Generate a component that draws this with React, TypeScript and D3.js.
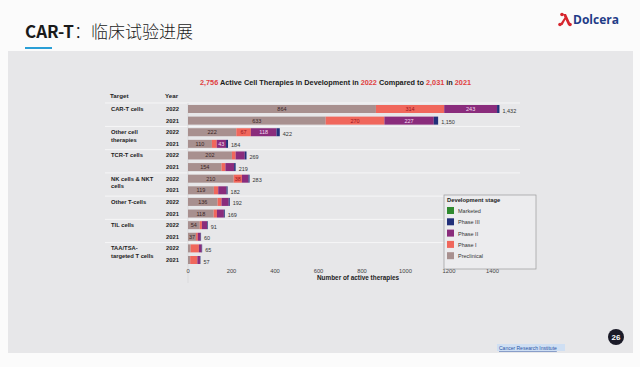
import React from "react";
import * as d3 from "d3";

const targets = ["CAR-T cells", "Other cell\ntherapies", "TCR-T cells", "NK cells & NKT\ncells", "Other T-cells", "TIL cells", "TAA/TSA-\ntargeted T cells"];
const years = ["2022", "2021"];
const stages = ["Marketed", "Phase III", "Phase II", "Phase I", "Preclinical"];
const stageColors = ["#2f8a2f", "#22307a", "#8a2c7c", "#f0675c", "#a8908f"];

const preclinical = [864, 633, 222, 110, 202, 154, 210, 119, 136, 118, 54, 37, 12, 10];
const phase1 = [314, 270, 67, 22, 17, 18, 38, 20, 18, 15, 10, 8, 38, 33];
const phase2 = [243, 227, 118, 43, 42, 40, 30, 38, 33, 32, 24, 13, 13, 12];
const phase3 = [11, 20, 15, 9, 8, 7, 5, 5, 5, 4, 3, 2, 2, 2];
const marketed = [0, 0, 0, 0, 0, 0, 0, 0, 0, 0, 0, 0, 0, 0];
const totals = [1432, 1150, 422, 184, 269, 219, 283, 182, 192, 169, 91, 60, 65, 57];

const labelPreRows = [0, 1, 2, 3, 4, 5, 6, 7, 8, 9, 10, 11];
const labelP1Rows = [0, 1, 2, 6];
const labelP2Rows = [0, 1, 2, 3];

const xTicks = [0, 200, 400, 600, 800, 1000, 1200, 1400];

const FONT = "'Liberation Sans', Arial, sans-serif";

export default function App() {
  const x = d3.scaleLinear().domain([0, 1400]).range([188, 492.5]);
  const rows = d3.range(totals.length);
  const y = d3.scalePoint<number>().domain(rows).range([109, 260]);
  const barH = 8;
  const fmt = d3.format(",");

  const segs = rows.map((i) => {
    const vals = [preclinical[i], phase1[i], phase2[i], phase3[i], marketed[i]];
    const cols = [stageColors[4], stageColors[3], stageColors[2], stageColors[1], stageColors[0]];
    let acc = 0;
    return vals.map((v, k) => {
      const s = { x0: acc, x1: acc + v, color: cols[k], v, k };
      acc += v;
      return s;
    });
  });

  const sepYs = d3.range(targets.length - 1).map((g) => ((y(2 * g + 1) as number) + (y(2 * g + 2) as number)) / 2);

  return (
    <svg width={640} height={367} style={{ position: "absolute", left: 0, top: 0, background: "#fbfbfb" }} fontFamily={FONT}>
      <rect x={0} y={0} width={640} height={367} fill="#fbfbfb" />
      <text x={25} y={38} fontSize={17} fontFamily="'Noto Sans CJK SC', 'Noto Sans', sans-serif" fill="#1a1a1a">
        <tspan fontWeight="bold">CAR-T</tspan>
        <tspan fontWeight={300}>：临床试验进展</tspan>
      </text>
      <rect x={25} y={47} width={27} height={2} fill="#2a9fd6" />
      <g fill="#d7262e">
        <path d="M563,14 L566,14 L571,25 L568,25 L565.5,19.5 L562.5,25 L559.5,25 L564.5,17.5 Z" />
        <circle cx={562} cy={14.5} r={1.8} />
        <circle cx={560} cy={24.5} r={1.8} />
        <circle cx={570} cy={24.5} r={1.8} />
      </g>
      <text x={573} y={24} fontSize={12} fontWeight="bold" fill="#1f3c88" fontFamily="'Open Sans', sans-serif">Dolcera</text>

      <rect x={8} y={51} width={625} height={302} fill="#e7e7e9" />

      <text x={335.5} y={85} fontSize={7.3} fontWeight="bold" textAnchor="middle" fill="#1a1a1a">
        <tspan fill="#e0403f">2,756</tspan> Active Cell Therapies in Development in <tspan fill="#e0403f">2022</tspan> Compared to <tspan fill="#e0403f">2,031</tspan> in <tspan fill="#e0403f">2021</tspan>
      </text>

      <text x={110} y={98} fontSize={6.2} fontWeight="bold" fill="#222">Target</text>
      <text x={165} y={98} fontSize={6.2} fontWeight="bold" fill="#222">Year</text>

      {sepYs.map((sy, i) => (
        <line key={i} x1={105} x2={520} y1={sy} y2={sy} stroke="#f6f6f7" strokeWidth={1} />
      ))}
      <line x1={105} x2={520} y1={103} y2={103} stroke="#f6f6f7" strokeWidth={1} />
      <line x1={x(0)} x2={x(0)} y1={103} y2={283} stroke="#d4d4d6" strokeWidth={0.6} />

      {targets.map((t, g) => (
        <text key={t} x={111} y={(y(2 * g) as number) + 2} fontSize={5.8} fontWeight="bold" fill="#222">
          {t.split("\n").map((ln, j) => (
            <tspan key={j} x={111} dy={j === 0 ? 0 : 7.5}>{ln}</tspan>
          ))}
        </text>
      ))}
      {rows.map((i) => (
        <text key={i} x={166} y={(y(i) as number) + 2} fontSize={5.8} fontWeight="bold" fill="#222">{years[i % 2]}</text>
      ))}

      {rows.map((i) => {
        const cy = y(i) as number;
        return (
          <g key={i}>
            {segs[i].filter((s) => s.v > 0).map((s) => (
              <rect key={s.k} x={x(s.x0)} y={cy - barH / 2} width={x(s.x1) - x(s.x0)} height={barH} fill={s.color} />
            ))}
            {labelPreRows.includes(i) && (
              <text x={(x(segs[i][0].x0) + x(segs[i][0].x1)) / 2} y={cy + 2} fontSize={5.5} textAnchor="middle" fill="#3a2626">{preclinical[i]}</text>
            )}
            {labelP1Rows.includes(i) && (
              <text x={(x(segs[i][1].x0) + x(segs[i][1].x1)) / 2} y={cy + 2} fontSize={5.5} textAnchor="middle" fill="#9a1420">{phase1[i]}</text>
            )}
            {labelP2Rows.includes(i) && (
              <text x={(x(segs[i][2].x0) + x(segs[i][2].x1)) / 2} y={cy + 2} fontSize={5.5} textAnchor="middle" fill="#f3dcef">{phase2[i]}</text>
            )}
            <text x={x(totals[i]) + 3} y={cy + 3.5} fontSize={5.5} fill="#333">{fmt(totals[i])}</text>
          </g>
        );
      })}

      {xTicks.map((t) => (
        <text key={t} x={x(t)} y={273} fontSize={5.8} textAnchor="middle" fill="#444">{t}</text>
      ))}
      <text x={317} y={280} fontSize={6.4} fontWeight="bold" fill="#222">Number of active therapies</text>

      <rect x={444} y={195} width={92} height={74} fill="#ececee" stroke="#9a9a9a" strokeWidth={0.7} />
      <text x={447} y={202} fontSize={5.8} fontWeight="bold" fill="#222">Development stage</text>
      {stages.map((s, k) => (
        <g key={s}>
          <rect x={447} y={207 + k * 11.3} width={7} height={7} fill={stageColors[k]} />
          <text x={458} y={213 + k * 11.3} fontSize={5.5} fill="#333">{s}</text>
        </g>
      ))}

      <rect x={497} y={344} width={68} height={7} fill="#cfdff3" />
      <text x={499} y={350} fontSize={5} fill="#2a55a8" textDecoration="underline">Cancer Research Institute</text>
      <circle cx={616} cy={337} r={8} fill="#1b1b28" />
      <text x={616} y={340} fontSize={8} fontWeight="bold" textAnchor="middle" fill="#fff">26</text>
    </svg>
  );
}
